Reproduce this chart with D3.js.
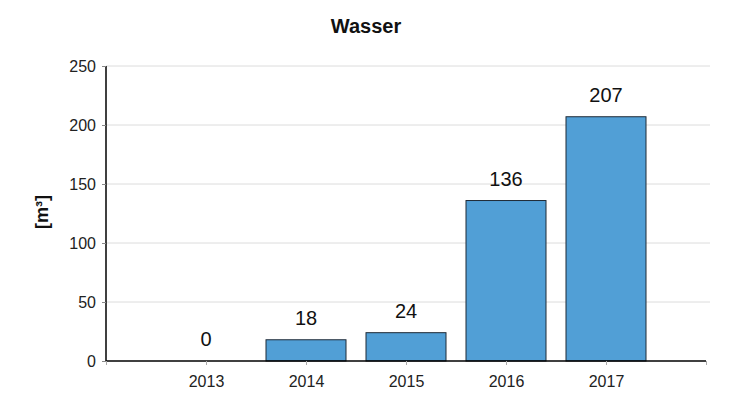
<!DOCTYPE html>
<html><head><meta charset="utf-8">
<script src="https://cdn.jsdelivr.net/npm/d3@7"></script>
<style>body{margin:0;background:#fff;}svg{display:block;font-family:"Liberation Sans",Arial,sans-serif;}</style>
</head><body><svg id="c" width="733" height="414"></svg>
<script>
const categories = ["2013","2014","2015","2016","2017"];
const values = [0,18,24,136,207];
const yTicks = [0,50,100,150,200,250];
const title = "Wasser";
const yLabel = "[m³]";

const data = categories.map((c,i)=>({cat:c, val:values[i], pos:i+1}));

const svg = d3.select("#c");
const m = {l:106, r:706, t:66, b:361};
const x = d3.scaleLinear().domain([0, categories.length+1]).range([m.l, m.r]);
const y = d3.scaleLinear().domain([0,250]).range([m.b, m.t]);
const barW = 80;

// gridlines
svg.append("g").selectAll("line").data(yTicks.filter(d=>d>0)).join("line")
  .attr("x1", m.l).attr("x2", m.r+4).attr("y1", d=>y(d)).attr("y2", d=>y(d))
  .attr("stroke", "#dcdcdc").attr("stroke-width", 1);

// bars
svg.append("g").selectAll("rect").data(data.filter(d=>d.val>0)).join("rect")
  .attr("x", d=>x(d.pos)-barW/2).attr("width", barW)
  .attr("y", d=>y(d.val)).attr("height", d=>y(0)-y(d.val))
  .attr("fill", "#519fd6").attr("stroke", "#1f2a36").attr("stroke-width", 1);

// value labels
svg.append("g").selectAll("text").data(data).join("text")
  .attr("x", d=>x(d.pos)).attr("y", d=>y(d.val)-15)
  .attr("text-anchor","middle").attr("font-size", 20).attr("fill","#111")
  .text(d=>d.val);

// y axis
const ya = d3.axisLeft(y).tickValues(yTicks).tickSize(4).tickPadding(6);
const gy = svg.append("g").attr("transform", `translate(${m.l},0)`).call(ya);
gy.select(".domain").attr("stroke","#000").attr("stroke-width",1.5).attr("d", `M0,${m.t}V${m.b}`);
gy.selectAll(".tick line").attr("stroke","#888");
gy.selectAll(".tick text").attr("font-size",16).attr("fill","#222").attr("font-family","Liberation Sans, Arial, sans-serif");

// x axis
const xa = d3.axisBottom(x).tickValues(d3.range(0, categories.length+2)).tickSize(4).tickPadding(11)
  .tickFormat(d => categories[d-1] || "");
const gx = svg.append("g").attr("transform", `translate(0,${m.b})`).call(xa);
gx.select(".domain").attr("stroke","#000").attr("stroke-width",1.5).attr("d", `M${m.l},0H${m.r}`);
gx.selectAll(".tick line").attr("stroke","#aaa");
gx.selectAll(".tick text").attr("font-size",16).attr("fill","#222").attr("font-family","Liberation Sans, Arial, sans-serif");

// title
svg.append("text").attr("x", 366).attr("y", 33).attr("text-anchor","middle")
  .attr("font-size",20).attr("font-weight","bold").attr("fill","#111").text(title);

// y label
svg.append("text").attr("transform","translate(48,212) rotate(-90)").attr("text-anchor","middle")
  .attr("font-size",18).attr("font-weight","bold").attr("fill","#111").text(yLabel);
</script></body></html>
